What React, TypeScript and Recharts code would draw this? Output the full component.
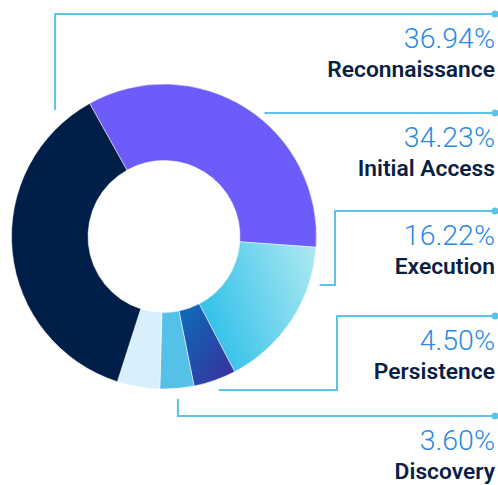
import { PieChart, Pie, Cell } from 'recharts';

// slice order runs clockwise from the navy/purple boundary
const categories = ['Initial Access', 'Execution', 'Persistence', 'Discovery', 'Other', 'Reconnaissance'];
const shares = [34.23, 16.22, 4.5, 3.6, 4.51, 36.94];
const fills = ['#6c5cf9', 'url(#execGrad)', 'url(#persGrad)', '#55c0e8', '#d9effc', '#001f48'];

// leader layout for the labelled slices: anchor angle/radius, elbow x, row y
const leaders: Record<string, { angle: number; r: number; elbowX: number | null; rowY: number }> = {
  Reconnaissance: { angle: 130.7, r: 167, elbowX: null, rowY: 14 },
  'Initial Access': { angle: 50.3, r: 159, elbowX: null, rowY: 113 },
  Execution: { angle: -17.3, r: 163, elbowX: 335, rowY: 211 },
  Persistence: { angle: -70.4, r: 163, elbowX: 337, rowY: 316 },
  Discovery: { angle: -85.1, r: 163, elbowX: null, rowY: 416 },
};

const data = categories.map((name, i) => ({ name, value: shares[i] }));

const LINE = '#5bc3ea';
const RIGHT = 495;
const RAD = Math.PI / 180;

function LeaderLabel(props: any) {
  const { cx, cy, index } = props;
  const name = categories[index];
  const l = leaders[name];
  if (!l) return null;
  const ax = cx + l.r * Math.cos(l.angle * RAD);
  const ay = cy - l.r * Math.sin(l.angle * RAD);
  let d: string;
  if (l.elbowX !== null) {
    d = `M${ax},${ay}H${l.elbowX}V${l.rowY}H${RIGHT}`;
  } else {
    d = `M${ax},${ay}V${l.rowY}H${RIGHT}`;
  }
  return (
    <g>
      <path d={d} fill="none" stroke={LINE} strokeWidth={2} />
      <circle cx={RIGHT} cy={l.rowY} r={3.5} fill={LINE} />
      <text
        x={RIGHT}
        y={l.rowY + 34}
        textAnchor="end"
        fontFamily="Roboto"
        fontWeight={300}
        fontSize={28.5}
        fill="#2b8ae0"
      >
        {shares[index].toFixed(2)}%
      </text>
      <text
        x={RIGHT}
        y={l.rowY + 62.5}
        textAnchor="end"
        fontFamily="Roboto"
        fontWeight={600}
        fontSize={22.8}
        fill="#0b1f45"
      >
        {name}
      </text>
    </g>
  );
}

export default function App() {
  return (
    <div style={{ position: 'absolute', left: 0, top: 0, width: 498, height: 485 }}>
      <svg width={0} height={0} style={{ position: 'absolute' }}>
        <defs>
          <linearGradient id="execGrad" x1="0" y1="0.4" x2="1" y2="0">
            <stop offset="0%" stopColor="#36c2ea" />
            <stop offset="100%" stopColor="#b0eaf1" />
          </linearGradient>
          <linearGradient id="persGrad" x1="0" y1="0" x2="1" y2="1">
            <stop offset="0%" stopColor="#0b6fba" />
            <stop offset="100%" stopColor="#3b2c9c" />
          </linearGradient>
        </defs>
      </svg>
      <PieChart width={498} height={485} margin={{ top: 0, right: 0, bottom: 0, left: 0 }}>
        <Pie
          data={data}
          dataKey="value"
          nameKey="name"
          cx={164}
          cy={236.5}
          innerRadius={76}
          outerRadius={152.5}
          startAngle={119.2}
          endAngle={-240.8}
          stroke="#fff"
          strokeWidth={0.5}
          label={LeaderLabel}
          labelLine={false}
          isAnimationActive={false}
        >
          {data.map((d, i) => (
            <Cell key={d.name} fill={fills[i]} />
          ))}
        </Pie>
      </PieChart>
    </div>
  );
}
